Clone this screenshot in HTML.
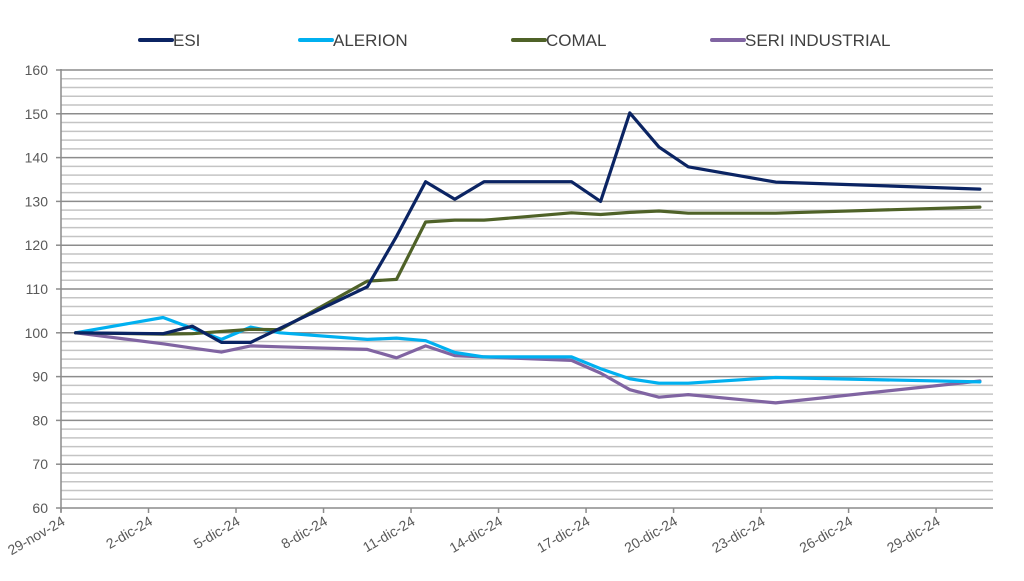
<!DOCTYPE html>
<html><head><meta charset="utf-8"><style>
body{margin:0;background:#fff;}
svg{display:block;font-family:"Liberation Sans",sans-serif;}
</style></head><body>
<svg id="chart" width="1024" height="581" viewBox="0 0 1024 581" xmlns="http://www.w3.org/2000/svg">
<g id="grid"></g>
<g id="axes"></g>
<g id="series"></g>
<g id="legend"></g>
</svg>
<script>
const days = [0,3,4,5,6,7,10,11,12,13,14,17,18,19,20,21,24,31];
const esi = [100,99.8,101.5,97.8,97.8,101,110.5,122,134.5,130.5,134.5,134.5,130,150.2,142.4,137.9,134.4,132.8];
const alerion = [100,103.5,101,98.5,101.3,100,98.5,98.8,98.2,95.5,94.5,94.5,91.8,89.5,88.5,88.5,89.8,88.8];
const comal = [100,99.7,99.8,100.3,100.8,100.7,111.8,112.2,125.3,125.7,125.7,127.4,127,127.5,127.8,127.3,127.3,128.7];
const seri = [100,97.5,96.5,95.6,97,96.8,96.2,94.3,97,94.8,94.5,93.7,90.8,87,85.3,85.9,84,89];
const seriesNames = ["ESI","ALERION","COMAL","SERI INDUSTRIAL"];
const yTicks = [60,70,80,90,100,110,120,130,140,150,160];
const xTickLabels = ["29-nov-24","2-dic-24","5-dic-24","8-dic-24","11-dic-24","14-dic-24","17-dic-24","20-dic-24","23-dic-24","26-dic-24","29-dic-24"];

const NS="http://www.w3.org/2000/svg";
const X0=61, X1=993, Y0=508, Y1=70, DAY=29.17;
const xPos = d => X0 + (d+0.5)*DAY;
const xTick = i => X0 + i*3*DAY;
const yPos = v => Y0 - (v-60)*(Y0-Y1)/100;
function mk(tag, attrs, parent){const e=document.createElementNS(NS,tag);for(const k in attrs)e.setAttribute(k,attrs[k]);parent.appendChild(e);return e;}
const grid=document.getElementById('grid'), axes=document.getElementById('axes'), ser=document.getElementById('series'), leg=document.getElementById('legend');
for(let v=62; v<=160; v+=2){
  const major = v%10===0;
  const l=mk('line',{x1:X0,x2:X1,y1:yPos(v),y2:yPos(v),stroke:major?'#8c8c8c':'#c4c4c4','stroke-width':1.5},grid);
  
  
}
const ya=mk('line',{x1:X0,x2:X0,y1:Y1-1,y2:Y0+4,stroke:'#8c8c8c','stroke-width':1.5},axes);


const xa=mk('line',{x1:X0,x2:X1,y1:Y0,y2:Y0,stroke:'#8c8c8c','stroke-width':1.5},axes);


yTicks.forEach(v=>{
  mk('line',{x1:X0-5,x2:X0,y1:yPos(v),y2:yPos(v),stroke:'#8c8c8c','stroke-width':1.5},axes);
  const t=mk('text',{x:X0-13,y:yPos(v)+5,'text-anchor':'end','font-size':14,fill:'#595959'},axes);
  t.textContent=v;
  
  
});
xTickLabels.forEach((s,i)=>{
  const x=xTick(i);
  mk('line',{x1:x,x2:x,y1:Y0,y2:Y0+5,stroke:'#8c8c8c','stroke-width':1.5},axes);
  const t=mk('text',{x:x+5,y:Y0+16,'text-anchor':'end','font-size':14,fill:'#595959',transform:`rotate(-30 ${x+5} ${Y0+16})`},axes);
  t.textContent=s;
  
  
});
const colors=['#0b2463','#00b0f0','#4f6228','#8064a2'];
const data=[esi,alerion,comal,seri];
const order=[3,1,2,0];
order.forEach(k=>{
  const pts=days.map((d,i)=>xPos(d).toFixed(1)+','+yPos(data[k][i]).toFixed(1)).join(' ');
  const p=mk('polyline',{points:pts,fill:'none',stroke:colors[k],'stroke-width':3.2,'stroke-linejoin':'round','stroke-linecap':'round'},ser);
  
  
});
const lx=[140,300,513,712];
seriesNames.forEach((n,k)=>{
  const g=mk('g',{},leg);
  
  
  mk('line',{x1:lx[k],x2:lx[k]+32,y1:40,y2:40,stroke:colors[k],'stroke-width':4,'stroke-linecap':'round'},g);
  const t=mk('text',{x:lx[k]+33,y:46,'font-size':17,fill:'#404040'},g);
  t.textContent=n;
});
</script>
</body></html>
